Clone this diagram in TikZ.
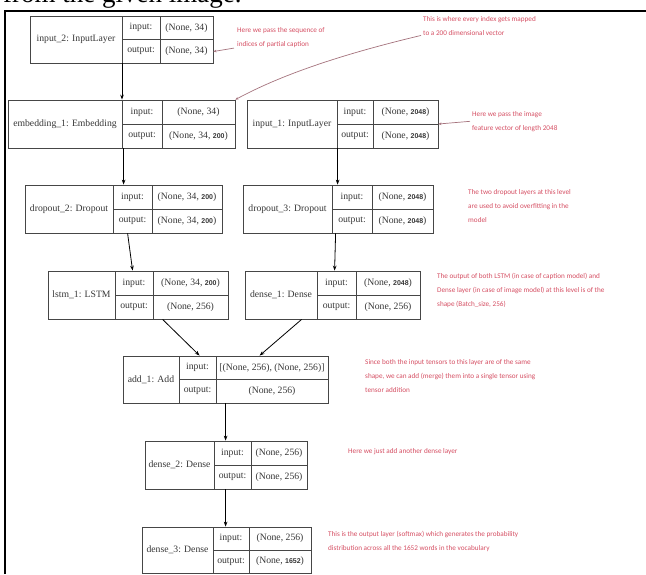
\documentclass[tikz,border=0pt]{standalone}
\usepackage{fontspec}
\setmainfont{Liberation Serif}
\newfontfamily\annfont{Carlito}
\newfontfamily\numfont{Liberation Sans}
\usetikzlibrary{arrows.meta,calc}
\definecolor{boxc}{RGB}{70,70,70}
\definecolor{txtc}{RGB}{55,55,55}
\definecolor{annc}{RGB}{214,80,100}
\definecolor{ptrc}{RGB}{165,115,125}
\newcommand\bn[1]{{\numfont\bfseries\fontsize{7}{8}\selectfont #1}}
\def\firstof#1#2{#1}
\def\secondof#1#2{#2}
\tikzset{
  layerbox/.style={draw=boxc, line width=0.8pt, inner sep=0pt},
  boxline/.style={draw=boxc, line width=0.8pt},
  lbl/.style={inner sep=0pt, text=txtc, font=\fontsize{9.7}{11}\selectfont},
  arr/.style={draw=black, line width=0.8pt, -{Stealth[length=5pt,width=3.6pt]}},
  ann/.style={inner sep=0pt, anchor=north west, align=left, text=annc, font=\annfont\fontsize{7.2}{14}\selectfont},
  ptr/.style={draw=ptrc, line width=0.7pt, -{Stealth[length=3pt,width=2.6pt]}},
}
% #1 name, #2 x1, #3 xa, #4 xb, #5 x2, #6 ytop, #7 ybot, #8 label, #9 {in}{out}
\newcommand\layer[9]{%
  \node[layerbox, minimum width={(#5-#2)*1pt}, minimum height={(#7-#6)*1pt}] (#1) at ({(#2+#5)/2},{(#6+#7)/2}) {};
  \draw[boxline] (#3,#6) -- (#3,#7) (#4,#6) -- (#4,#7) (#3,{(#6+#7)/2}) -- (#5,{(#6+#7)/2});
  \coordinate (#1-a) at (#3,#6);
  \node[lbl] (#1-l) at ({(#2+#3)/2},{(#6+#7)/2}) {#8};
  \node[lbl] (#1-ik) at ({(#3+#4)/2},{(3*#6+#7)/4}) {input:};
  \node[lbl] (#1-ok) at ({(#3+#4)/2},{(#6+3*#7)/4}) {output:};
  \node[lbl] (#1-iv) at ({(#4+#5)/2},{(3*#6+#7)/4}) {\firstof#9};
  \node[lbl] (#1-ov) at ({(#4+#5)/2},{(#6+3*#7)/4}) {\secondof#9};
}
\begin{document}
\begin{tikzpicture}[x=1pt,y=-1pt]
\useasboundingbox (0,0) rectangle (646,574);
\clip (0,0) rectangle (646,574);
\fill[white] (0,0) rectangle (646,574);
% cut-off caption and frame
\node[anchor=base west, inner sep=0pt, font=\fontsize{27}{30}\selectfont] (cap) at (3,2) {from the given image.};
\draw[line width=2.6pt, black] (5,574) -- (5,11) -- (646,11);
% layers
\layer{input_2}{30}{122}{160}{213}{16}{63}{input\_2: InputLayer}{{(None, 34)}{(None, 34)}}
\layer{embedding_1}{8}{122}{162}{235}{100}{148}{embedding\_1: Embedding}{{(None, 34)}{(None, 34, \bn{200})}}
\layer{input_1}{247}{337}{373}{438}{100}{148}{input\_1: InputLayer}{{(None, \bn{2048})}{(None, \bn{2048})}}
\layer{dropout_2}{25}{113}{152}{222}{185}{233}{dropout\_2: Dropout}{{(None, 34, \bn{200})}{(None, 34, \bn{200})}}
\layer{dropout_3}{243}{332}{372}{433}{185}{233}{dropout\_3: Dropout}{{(None, \bn{2048})}{(None, \bn{2048})}}
\layer{lstm_1}{48}{115}{153}{228}{271}{319}{lstm\_1: LSTM}{{(None, 34, \bn{200})}{(None, 256)}}
\layer{dense_1}{245}{317}{356}{420}{271}{319}{dense\_1: Dense}{{(None, \bn{2048})}{(None, 256)}}
\layer{add_1}{123}{179}{216}{328}{356}{403}{add\_1: Add}{{[(None, 256), (None, 256)]}{(None, 256)}}
\layer{dense_2}{145}{214}{251}{307}{441}{489}{dense\_2: Dense}{{(None, 256)}{(None, 256)}}
\layer{dense_3}{142}{213}{249}{311}{527}{573}{dense\_3: Dense}{{(None, 256)}{(None, \bn{1652})}}
% flow arrows
\draw[arr] (input_2-a |- input_2.south) -- (input_2-a |- embedding_1.north);
\draw[arr] ([xshift=116pt]embedding_1.south west) -- ([xshift=99pt]dropout_2.north west);
\draw[arr] ([xshift=103pt]dropout_2.south west) -- ([xshift=85pt]lstm_1.north west);
\draw[arr] ([xshift=91pt]input_1.south west) -- ([xshift=95pt]dropout_3.north west);
\draw[arr] ([xshift=93pt]dropout_3.south west) -- ([xshift=90pt]dense_1.north west);
\draw[arr] ([xshift=115pt]lstm_1.south west) -- ([xshift=77pt]add_1.north west);
\draw[arr] ([xshift=57pt]dense_1.south west) -- ([xshift=137pt]add_1.north west);
\draw[arr] ([xshift=103pt]add_1.south west) -- ([xshift=81pt]dense_2.north west);
\draw[arr] ([xshift=81pt]dense_2.south west) -- ([xshift=84pt]dense_3.north west);
% annotations
\node[ann] (ann1) at (237,27.5) {Here we pass the sequence of\\indices of partial caption};
\node[ann] (ann2) at (423,16) {This is where every index gets mapped\\to a 200 dimensional vector};
\node[ann] (ann3) at (472,111) {Here we pass the image\\feature vector of length 2048};
\node[ann] (ann4) at (468,189) {The two dropout layers at this level\\are used to avoid overfitting in the\\model};
\node[ann] (ann5) at (437,273) {The output of both LSTM (in case of caption model) and\\Dense layer (in case of image model) at this level is of the\\shape (Batch\_size, 256)};
\node[ann] (ann6) at (365,359) {Since both the input tensors to this layer are of the same\\shape, we can add (merge) them into a single tensor using\\tensor addition};
\node[ann] (ann7) at (348,448) {Here we just add another dense layer};
\node[ann] (ann8) at (328,531) {This is the output layer (softmax) which generates the probability\\distribution across all the 1652 words in the vocabulary};
% annotation pointers
\draw[ptr] ([xshift=-3pt]ann1.south west) -- ([yshift=-12pt]input_2.east);
\draw[ptr] ([xshift=-2pt]ann2.south west) .. controls (360,50) and (290,70) .. (embedding_1.north east);
\draw[ptr] ([xshift=-2pt]ann3.west) -- (input_1.east);
\end{tikzpicture}
\end{document}
